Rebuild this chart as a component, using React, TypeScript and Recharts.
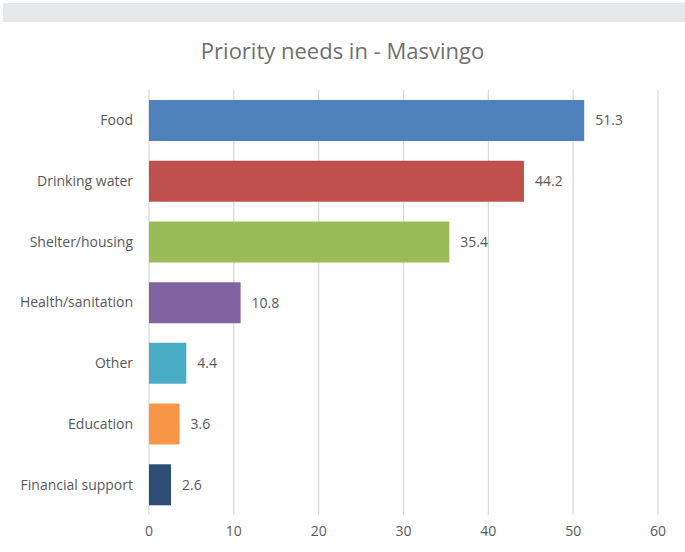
import React from 'react';
import { BarChart, Bar, XAxis, YAxis, CartesianGrid, Cell, LabelList } from 'recharts';

const categories = ['Food', 'Drinking water', 'Shelter/housing', 'Health/sanitation', 'Other', 'Education', 'Financial support'];
const values = [51.3, 44.2, 35.4, 10.8, 4.4, 3.6, 2.6];
const colors = ['#4F81BD', '#C0504D', '#9BBB59', '#8064A2', '#4BACC6', '#F79646', '#2C4D75'];
const xTicks = [0, 10, 20, 30, 40, 50, 60];
const title = 'Priority needs in - Masvingo';

const data = categories.map((name, i) => ({ name, value: values[i] }));
const FONT = 'Open Sans, sans-serif';

export default function App() {
  return (
    <div style={{ position: 'absolute', left: 0, top: 0, width: 685, height: 552, background: '#fff', fontFamily: FONT }}>
      <div style={{ position: 'absolute', left: 3, top: 3, width: 682, height: 19, background: '#E6E7E8' }} />
      <div style={{ position: 'absolute', left: 0, top: 35, width: 685, textAlign: 'center', fontSize: 22, color: '#6f6f6f', fontFamily: FONT }}>
        {title}
      </div>
      <div style={{ position: 'absolute', left: 0, top: 0 }}>
        <BarChart
          width={685}
          height={552}
          data={data}
          layout="vertical"
          margin={{ top: 90, right: 27, bottom: 7, left: 0 }}
          barSize={41}
        >
          <CartesianGrid horizontal={false} vertical={true} stroke="#D9D9D9" strokeWidth={1.2} />
          <XAxis
            type="number"
            domain={[0, 60]}
            ticks={xTicks}
            axisLine={false}
            tickLine={false}
            height={30}
            tickMargin={5}
            tick={{ fill: '#595959', fontSize: 14, fontFamily: FONT }}
          />
          <YAxis
            type="category"
            dataKey="name"
            width={149}
            axisLine={false}
            tickLine={false}
            tickMargin={10}
            interval={0}
            tick={{ fill: '#595959', fontSize: 14, fontFamily: FONT }}
          />
          <Bar dataKey="value" isAnimationActive={false}>
            {data.map((d, i) => (
              <Cell key={d.name} fill={colors[i]} />
            ))}
            <LabelList dataKey="value" position="right" offset={11} fill="#595959" fontSize={14} fontFamily={FONT} />
          </Bar>
        </BarChart>
      </div>
    </div>
  );
}
